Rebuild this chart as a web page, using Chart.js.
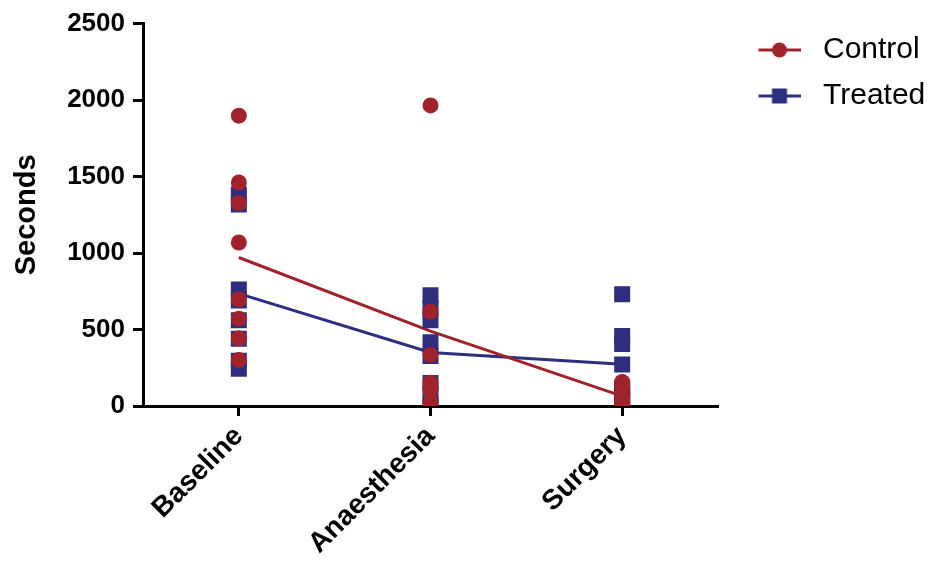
<!DOCTYPE html>
<html>
<head>
<meta charset="utf-8">
<script src="https://cdn.jsdelivr.net/npm/chart.js@4.4.1/dist/chart.umd.min.js"></script>
<style>
  html, body { margin: 0; padding: 0; background: #fff; }
  #wrap { width: 935px; height: 561px; }
</style>
</head>
<body>
<div id="wrap"><canvas id="myChart" width="935" height="561"></canvas></div>
<script>
const categories = ['Baseline', 'Anaesthesia', 'Surgery'];
const yTicks = [0, 500, 1000, 1500, 2000, 2500];

// individual animals, one array per time point
const controlBaseline = [1898, 1461, 1327, 1069, 698, 571, 443, 301];
const controlAnaesthesia = [1965, 617, 334, 152, 130, 105, 30, 7];
const controlSurgery = [157, 120, 80, 60, 40, 30, 20, 7];

const treatedBaseline = [1383, 1317, 761, 690, 560, 440, 296, 244];
const treatedAnaesthesia = [724, 641, 561, 417, 327, 150, 72, 8];
const treatedSurgery = [730, 458, 406, 272, 118, 100, 60, 40];

// group means (lines)
const controlMean = [971, 490, 65];
const treatedMean = [735, 350, 273];

const red = '#A0222B';
const blue = '#2D2E7E';
const font = "'Liberation Sans', Arial, sans-serif";

function toPoints(groups) {
    const pts = [];
    groups.forEach((vals, i) => {
        vals.forEach(v => pts.push({ x: categories[i], y: v }));
    });
    return pts;
}

// line + marker picture for the legend (drawn in the right part of the canvas)
function legendIcon(color, shape) {
    const c = document.createElement('canvas');
    c.width = 59;
    c.height = 18;
    const g = c.getContext('2d');
    g.strokeStyle = color;
    g.lineWidth = 3;
    g.beginPath();
    g.moveTo(17, 9);
    g.lineTo(59, 9);
    g.stroke();
    g.fillStyle = color;
    if (shape === 'circle') {
        g.beginPath();
        g.arc(38, 9, 7.5, 0, Math.PI * 2);
        g.fill();
    } else {
        g.fillRect(30.5, 1.5, 15, 15);
    }
    return c;
}

const ctx = document.getElementById('myChart').getContext('2d');

const data = {
    labels: categories,
    datasets: [
        {
            label: 'Control',
            data: toPoints([controlBaseline, controlAnaesthesia, controlSurgery]),
            showLine: false,
            pointStyle: 'circle',
            pointRadius: 8,
            backgroundColor: red,
            borderColor: red,
            borderWidth: 0
        },
        {
            label: 'Treated',
            data: toPoints([treatedBaseline, treatedAnaesthesia, treatedSurgery]),
            showLine: false,
            pointStyle: 'rect',
            pointRadius: 11.3,
            backgroundColor: blue,
            borderColor: blue,
            borderWidth: 0
        },
        {
            label: 'Control mean',
            data: controlMean,
            borderColor: red,
            borderWidth: 3,
            pointRadius: 0,
            tension: 0
        },
        {
            label: 'Treated mean',
            data: treatedMean,
            borderColor: blue,
            borderWidth: 3,
            pointRadius: 0,
            tension: 0
        }
    ]
};

const config = {
    type: 'line',
    data: data,
    options: {
        responsive: false,
        animation: false,
        layout: {
            padding: { left: 0, top: 10, right: 0, bottom: 0 }
        },
        plugins: {
            tooltip: { enabled: false },
            legend: {
                position: 'right',
                align: 'start',
                maxWidth: 217,
                title: {
                    display: true,
                    text: ' ',
                    padding: { top: 3, bottom: 0 },
                    font: { size: 5 }
                },
                labels: {
                    usePointStyle: true,
                    pointStyleWidth: 74,
                    padding: 16,
                    color: '#000',
                    font: { family: font, size: 30 },
                    generateLabels: () => [
                        { text: 'Control', pointStyle: legendIcon(red, 'circle'), fontColor: '#000', datasetIndex: 0, lineWidth: 0 },
                        { text: 'Treated', pointStyle: legendIcon(blue, 'rect'), fontColor: '#000', datasetIndex: 1, lineWidth: 0 }
                    ]
                }
            }
        },
        scales: {
            x: {
                type: 'category',
                offset: true,
                grid: {
                    offset: false,
                    drawOnChartArea: false,
                    drawTicks: true,
                    tickLength: 10,
                    tickWidth: 3,
                    tickColor: '#000'
                },
                border: { display: true, color: '#000', width: 3 },
                ticks: {
                    color: '#000',
                    minRotation: 45,
                    maxRotation: 45,
                    padding: 4,
                    font: { family: font, size: 28, weight: 'bold' }
                },
                afterFit: s => { s.height = 155; }
            },
            y: {
                min: 0,
                max: 2500,
                afterBuildTicks: s => { s.ticks = yTicks.map(v => ({ value: v })); },
                grid: {
                    drawOnChartArea: false,
                    drawTicks: true,
                    tickLength: 10,
                    tickWidth: 3,
                    tickColor: '#000'
                },
                border: { display: true, color: '#000', width: 3 },
                ticks: {
                    color: '#000',
                    padding: 8,
                    font: { family: font, size: 26, weight: 'bold' },
                    callback: v => String(v)
                },
                title: {
                    display: true,
                    text: 'Seconds',
                    color: '#000',
                    padding: { top: 10, bottom: 6 },
                    font: { family: font, size: 29, weight: 'bold' }
                },
                afterFit: s => { s.width = 143; }
            }
        }
    }
};

const myChart = new Chart(ctx, config);
</script>
</body>
</html>
